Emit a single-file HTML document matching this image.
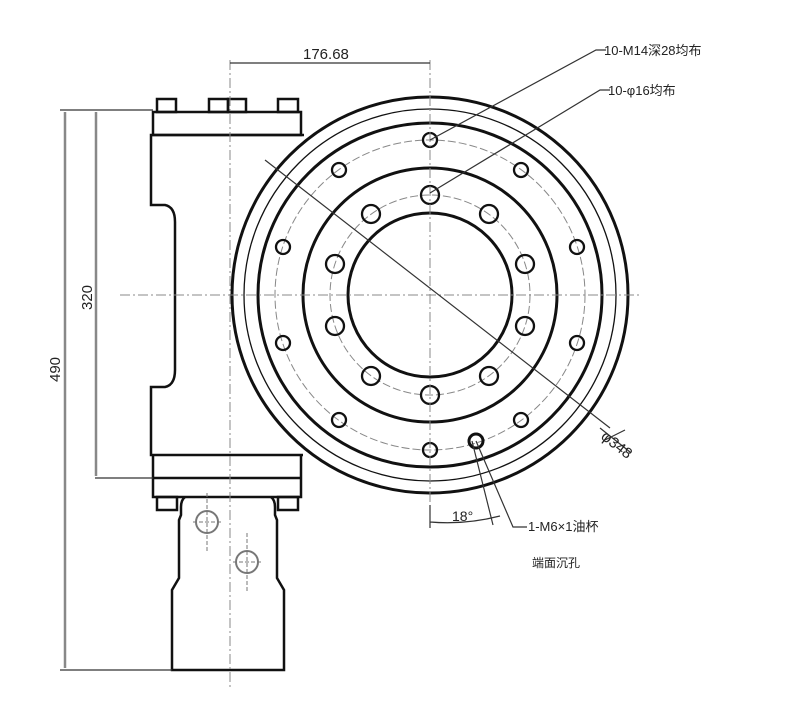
<!DOCTYPE html>
<html><head><meta charset="utf-8"><style>html,body{margin:0;padding:0;background:#fff}</style></head>
<body>
<svg width="800" height="717" viewBox="0 0 800 717" xmlns="http://www.w3.org/2000/svg" font-family="Liberation Sans Narrow, Liberation Sans, Noto Sans CJK SC, sans-serif">
<rect width="800" height="717" fill="#fff"/>
<g fill="none" stroke="#111">
<g stroke-width="2.5">
<rect x="157" y="99" width="19" height="13"/>
<rect x="209" y="99" width="19" height="13"/>
<rect x="228" y="99" width="18" height="13"/>
<rect x="278" y="99" width="20" height="13"/>
<rect x="153" y="112" width="148" height="23"/>
<path d="M304 135 H151 V205 H165 Q175 207 175 222 V370 Q175 385 165 387 H151 V455 H303"/>
<path d="M153 455 V497 H301 V455 M153 478 H301"/>
<rect x="157" y="497" width="20" height="13"/>
<rect x="278" y="497" width="20" height="13"/>
<path d="M185 497 Q181 500 181 507 V515 L179 520 V578 L172 590 V670 H284 V590 L277 578 V520 L275 515 V507 Q275 500 271 497"/>
</g>
<g stroke="#777" stroke-width="2"><circle cx="207" cy="522" r="11"/><circle cx="247" cy="562" r="11"/><circle cx="328" cy="296" r="4" stroke-width="1"/></g>
<g stroke="#777" stroke-width="1" stroke-dasharray="4 2"><path d="M207 493 V553 M193 522 H221 M247 533 V593 M233 562 H261"/></g>
<g fill="#fff"><circle cx="430" cy="295" r="198" stroke-width="3"/></g>
<circle cx="430" cy="295" r="186" stroke-width="1.3"/>
<circle cx="430" cy="295" r="172" stroke-width="3"/>
<circle cx="430" cy="295" r="127" stroke-width="3"/>
<circle cx="430" cy="295" r="82" stroke-width="3"/>
<g stroke="#888" stroke-width="1" stroke-dasharray="8 3"><circle cx="430" cy="295" r="155"/><circle cx="430" cy="295" r="100"/></g>
<g stroke-width="2.3">
<circle cx="430" cy="140" r="7"/><circle cx="521" cy="170" r="7"/><circle cx="577" cy="247" r="7"/><circle cx="577" cy="343" r="7"/><circle cx="521" cy="420" r="7"/><circle cx="430" cy="450" r="7"/><circle cx="339" cy="420" r="7"/><circle cx="283" cy="343" r="7"/><circle cx="283" cy="247" r="7"/><circle cx="339" cy="170" r="7"/>
<circle cx="430" cy="195" r="9"/><circle cx="489" cy="214" r="9"/><circle cx="525" cy="264" r="9"/><circle cx="525" cy="326" r="9"/><circle cx="489" cy="376" r="9"/><circle cx="430" cy="395" r="9"/><circle cx="371" cy="376" r="9"/><circle cx="335" cy="326" r="9"/><circle cx="335" cy="264" r="9"/><circle cx="371" cy="214" r="9"/>
<circle cx="476" cy="441" r="7" stroke-width="3"/>
</g>
<g stroke="#888" stroke-width="1" stroke-dasharray="10 3 2 3"><path d="M120 295 H640 M430 60 V525 M230 60 V690"/></g>
<g stroke="#333" stroke-width="1.2">
<path d="M230 63 H430"/>
<path d="M60 110 H153 M95 478 H153 M60 670 H172"/>
<path d="M265 160 L610 428"/>
<path d="M600 428 L630 452 M605 440 L625 430" />
<path d="M430 140 L596 50 H606 M430 193 L600 90 H610"/>
<path d="M476 441 L513 527 H527 M472 441 L493 525"/>
<path d="M430 505 V528 M430 522 Q465 525 500 516"/>
</g>
<g stroke="#888" stroke-width="2.5"><path d="M65 112 V668 M96 112 V476"/></g>
</g>
<g fill="#222" font-size="13">
<text x="303" y="59" font-size="15">176.68</text>
<text x="604" y="55" font-size="13">10-M14深28均布</text>
<text x="608" y="95" font-size="13">10-φ16均布</text>
<text x="528" y="531" font-size="13">1-M6×1油杯</text>
<text x="532" y="567" font-size="12">端面沉孔</text>
<text x="452" y="521" font-size="14">18°</text>
<text transform="translate(600,438) rotate(38)" font-size="15">φ348</text>
<text transform="translate(60,382) rotate(-90)" font-size="15">490</text>
<text transform="translate(92,310) rotate(-90)" font-size="15">320</text>
</g>
</svg>
</body></html>
